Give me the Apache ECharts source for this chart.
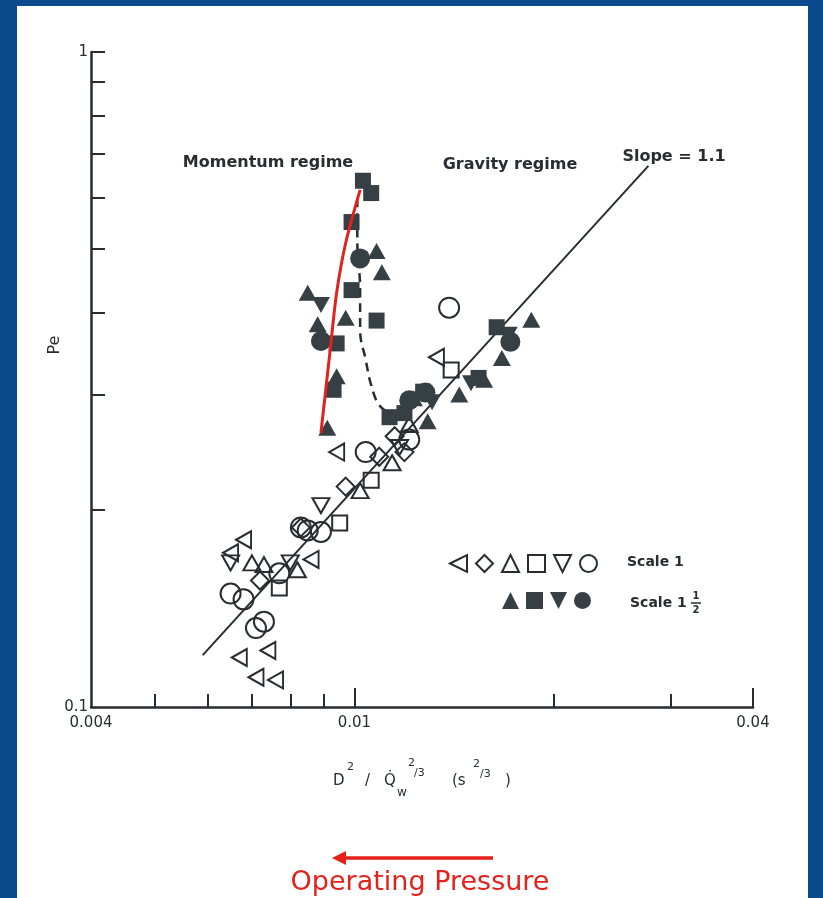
<!DOCTYPE html>
<html>
<head>
<meta charset="utf-8">
<script src="https://cdn.jsdelivr.net/npm/echarts@6/dist/echarts.min.js"></script>
<style>
  html, body { margin: 0; padding: 0; background: #0a4a8c; }
  #panel { position: absolute; left: 17px; top: 6px; width: 791px; height: 892px; background: #fff; }
  #chart { position: absolute; left: 0; top: 0; width: 823px; height: 898px; }
</style>
</head>
<body>
<div id="panel"></div>
<div id="chart"></div>
<script>
// axis ticks / labels
const xMinorTicks = [0.005, 0.006, 0.007, 0.008, 0.009, 0.02, 0.03];
const xMajorTicks = [0.01, 0.04];
const xLabels = [0.004, 0.01, 0.04];
const yTicks = [0.2, 0.3, 0.4, 0.5, 0.6, 0.7, 0.8, 0.9, 1];
const yLabels = [0.1, 1];

// Scale 1 (open symbols)  [D^2/Qw^(2/3), Pe]
const s1Left = [[0.0133, 0.342], [0.0094, 0.245], [0.0065, 0.172], [0.0068, 0.180], [0.0086, 0.168],
  [0.0067, 0.119], [0.0074, 0.122], [0.0071, 0.111], [0.0076, 0.110]];
const s1Diamond = [[0.0097, 0.217], [0.0083, 0.188], [0.0115, 0.259], [0.0109, 0.241], [0.0119, 0.245], [0.0072, 0.156]];
const s1Tri = [[0.0102, 0.214], [0.0070, 0.166], [0.0073, 0.165], [0.0082, 0.162], [0.0121, 0.270], [0.0114, 0.236]];
const s1Square = [[0.0140, 0.327], [0.0106, 0.222], [0.0095, 0.191], [0.0077, 0.152]];
const s1Down = [[0.0089, 0.203], [0.0065, 0.166], [0.0080, 0.166], [0.0117, 0.249]];
const s1Circle = [[0.0139, 0.407], [0.0104, 0.245], [0.0083, 0.188], [0.0085, 0.186], [0.0089, 0.185],
  [0.0065, 0.149], [0.0068, 0.146], [0.0073, 0.135], [0.0071, 0.132], [0.0077, 0.160], [0.0121, 0.256]];

// Scale 1 1/2 (filled symbols)
const s2Tri = [[0.0108, 0.497], [0.0110, 0.461], [0.0085, 0.429], [0.0097, 0.393], [0.0088, 0.384],
  [0.0094, 0.320], [0.0091, 0.267], [0.0185, 0.390], [0.0167, 0.341], [0.0144, 0.300], [0.0157, 0.316],
  [0.0129, 0.273], [0.0123, 0.296]];
const s2Square = [[0.0103, 0.636], [0.0106, 0.609], [0.0099, 0.550], [0.0099, 0.433], [0.0108, 0.389],
  [0.0094, 0.359], [0.0093, 0.305], [0.0113, 0.277], [0.0119, 0.281], [0.0127, 0.303], [0.0164, 0.380], [0.0154, 0.318]];
const s2Down = [[0.0089, 0.411], [0.0171, 0.370], [0.0150, 0.312], [0.0131, 0.292]];
const s2Circle = [[0.0102, 0.484], [0.0089, 0.362], [0.0172, 0.361], [0.0128, 0.302], [0.0121, 0.294]];

// lines
const slopeLine = [[0.0059, 0.12], [0.0278, 0.67]];
const dashedCurve = [[0.0101, 0.598], [0.0101, 0.516], [0.0102, 0.433], [0.0102, 0.376], [0.0104, 0.339],
  [0.0106, 0.310], [0.0109, 0.289], [0.0114, 0.279]];
const redCurve = [[0.0102, 0.616], [0.0097, 0.511], [0.0094, 0.429], [0.0092, 0.354], [0.0089, 0.262]];

const ink = '#272d31';
const fillInk = '#353f44';
const red = '#e2221b';
const font = 'DejaVu Sans';

const leftIcon = 'path://M0,5L10,0L10,10Z';
const downIcon = 'path://M0,0L10,0L5,10Z';

const chart = echarts.init(document.getElementById('chart'), null, { renderer: 'canvas' });

function openSeries(name, data, symbol, size, rotate) {
  return {
    name: name, type: 'scatter', data: data, symbol: symbol, symbolSize: size, symbolRotate: rotate || 0,
    itemStyle: { color: 'rgba(255,255,255,0)', borderColor: ink, borderWidth: 2, opacity: 1 }, z: 3
  };
}
function filledSeries(name, data, symbol, size, rotate) {
  return {
    name: name, type: 'scatter', data: data, symbol: symbol, symbolSize: size, symbolRotate: rotate || 0,
    itemStyle: { color: fillInk, opacity: 1 }, z: 4
  };
}

const axisFont = { fontFamily: font, fontSize: 15, color: ink };
const fmt = v => String(+(+v).toPrecision(2));

const option = {
  backgroundColor: 'transparent',
  animation: false,
  grid: { left: 91, right: 70, top: 52, bottom: 191 },
  legend: [
    {
      left: 449, top: 554, padding: 0, itemWidth: 17, itemHeight: 17, itemGap: 7, selectedMode: false,
      formatter: () => '',
      data: [
        { name: 's1 left', icon: leftIcon, symbolRotate: 0 }, 's1 diamond', 's1 tri', 's1 square',
        { name: 's1 down', icon: downIcon, symbolRotate: 0 }, 's1 circle'
      ]
    },
    {
      left: 502, top: 592, padding: 0, itemWidth: 17, itemHeight: 17, itemGap: 7, selectedMode: false,
      formatter: () => '',
      data: ['s2 tri', 's2 square', { name: 's2 down', icon: downIcon, symbolRotate: 0 }, 's2 circle']
    }
  ],
  xAxis: [
    {
      type: 'log', min: 0.004, max: 0.04,
      axisLine: { lineStyle: { color: ink, width: 2.5 } },
      axisTick: { inside: true, length: 13, customValues: xMinorTicks, lineStyle: { color: ink, width: 2 } },
      axisLabel: Object.assign({ customValues: xLabels, formatter: fmt, margin: 9 }, axisFont),
      splitLine: { show: false }, minorTick: { show: false }
    },
    {
      type: 'log', min: 0.004, max: 0.04, position: 'bottom',
      axisLine: { show: false },
      axisTick: { inside: true, length: 19, customValues: xMajorTicks, lineStyle: { color: ink, width: 2 } },
      axisLabel: { show: false }, splitLine: { show: false }
    }
  ],
  yAxis: {
    type: 'log', min: 0.1, max: 1,
    axisLine: { lineStyle: { color: ink, width: 2.5 } },
    axisTick: { inside: true, length: 14, customValues: yTicks, lineStyle: { color: ink, width: 2 } },
    axisLabel: Object.assign({ customValues: yLabels, formatter: fmt, margin: 3 }, axisFont),
    splitLine: { show: false }
  },
  series: [
    {
      name: 'slope', type: 'line', data: slopeLine, symbol: 'none', z: 2,
      lineStyle: { color: ink, width: 2 }
    },
    {
      name: 'transition', type: 'line', data: dashedCurve, symbol: 'none', smooth: 0.4, z: 2,
      lineStyle: { color: ink, width: 2.5, type: [9, 6] }
    },
    openSeries('s1 left', s1Left, 'triangle', [17, 15], 90),
    openSeries('s1 diamond', s1Diamond, 'diamond', 18),
    openSeries('s1 tri', s1Tri, 'triangle', [17, 15]),
    openSeries('s1 square', s1Square, 'rect', 15),
    openSeries('s1 down', s1Down, 'triangle', [17, 15], 180),
    openSeries('s1 circle', s1Circle, 'circle', 20),
    filledSeries('s2 tri', s2Tri, 'triangle', [18, 16]),
    filledSeries('s2 square', s2Square, 'rect', 16),
    filledSeries('s2 down', s2Down, 'triangle', [18, 16], 180),
    filledSeries('s2 circle', s2Circle, 'circle', 20),
    {
      name: 'momentum', type: 'line', data: redCurve, symbol: 'none', smooth: 0.3, z: 6,
      lineStyle: { color: red, width: 3 }
    }
  ],
  graphic: [
    { type: 'text', x: 268, y: 163, z: 10, style: { text: 'Momentum regime', fill: ink, font: 'bold 16px "DejaVu Sans"', align: 'center', verticalAlign: 'middle' } },
    { type: 'text', x: 510, y: 165, z: 10, style: { text: 'Gravity regime', fill: ink, font: 'bold 16px "DejaVu Sans"', align: 'center', verticalAlign: 'middle' } },
    { type: 'text', x: 674, y: 157, z: 10, style: { text: 'Slope = 1.1', fill: ink, font: 'bold 16px "DejaVu Sans"', align: 'center', verticalAlign: 'middle' } },
    { type: 'text', x: 627, y: 562, z: 10, style: { text: 'Scale 1', fill: ink, font: 'bold 14px "DejaVu Sans"', align: 'left', verticalAlign: 'middle' } },
    { type: 'text', x: 630, y: 603, z: 10, style: { text: 'Scale 1', fill: ink, font: 'bold 14px "DejaVu Sans"', align: 'left', verticalAlign: 'middle' } },
    { type: 'text', x: 696, y: 596, z: 10, style: { text: '1', fill: ink, font: 'bold 10px "DejaVu Sans"', align: 'center', verticalAlign: 'middle' } },
    { type: 'line', z: 10, shape: { x1: 691, y1: 603, x2: 701, y2: 603 }, style: { stroke: ink, lineWidth: 1.5 } },
    { type: 'text', x: 696, y: 610, z: 10, style: { text: '2', fill: ink, font: 'bold 10px "DejaVu Sans"', align: 'center', verticalAlign: 'middle' } },
    { type: 'text', x: 55, y: 345, rotation: Math.PI / 2, z: 10, style: { text: 'Pe', fill: ink, font: '16px "DejaVu Sans"', align: 'center', verticalAlign: 'middle' } },
    // x axis title
    { type: 'text', x: 333, y: 781, z: 10, style: { text: 'D', fill: ink, font: '15px "DejaVu Sans"', verticalAlign: 'middle' } },
    { type: 'text', x: 347, y: 767, z: 10, style: { text: '2', fill: ink, font: '11px "DejaVu Sans"', verticalAlign: 'middle' } },
    { type: 'text', x: 365, y: 781, z: 10, style: { text: '/', fill: ink, font: '15px "DejaVu Sans"', verticalAlign: 'middle' } },
    { type: 'text', x: 384, y: 781, z: 10, style: { text: 'Q\u0307', fill: ink, font: '15px "DejaVu Sans"', verticalAlign: 'middle' } },
    { type: 'text', x: 397, y: 793, z: 10, style: { text: 'w', fill: ink, font: '12px "DejaVu Sans"', verticalAlign: 'middle' } },
    { type: 'text', x: 408, y: 763, z: 10, style: { text: '2', fill: ink, font: '11px "DejaVu Sans"', verticalAlign: 'middle' } },
    { type: 'text', x: 414, y: 773, z: 10, style: { text: '/3', fill: ink, font: '11px "DejaVu Sans"', verticalAlign: 'middle' } },
    { type: 'text', x: 452, y: 781, z: 10, style: { text: '(s', fill: ink, font: '15px "DejaVu Sans"', verticalAlign: 'middle' } },
    { type: 'text', x: 473, y: 764, z: 10, style: { text: '2', fill: ink, font: '11px "DejaVu Sans"', verticalAlign: 'middle' } },
    { type: 'text', x: 480, y: 774, z: 10, style: { text: '/3', fill: ink, font: '11px "DejaVu Sans"', verticalAlign: 'middle' } },
    { type: 'text', x: 505, y: 781, z: 10, style: { text: ')', fill: ink, font: '15px "DejaVu Sans"', verticalAlign: 'middle' } },
    // operating pressure arrow
    { type: 'line', z: 10, shape: { x1: 493, y1: 858, x2: 344, y2: 858 }, style: { stroke: red, lineWidth: 3.5 } },
    { type: 'polygon', z: 10, shape: { points: [[332, 858], [346, 851], [346, 865]] }, style: { fill: red } },
    { type: 'text', x: 420, y: 883, z: 10, style: { text: 'Operating Pressure', fill: red, font: '27px "DejaVu Sans"', align: 'center', verticalAlign: 'middle' } }
  ]
};

chart.setOption(option);
</script>
</body>
</html>
